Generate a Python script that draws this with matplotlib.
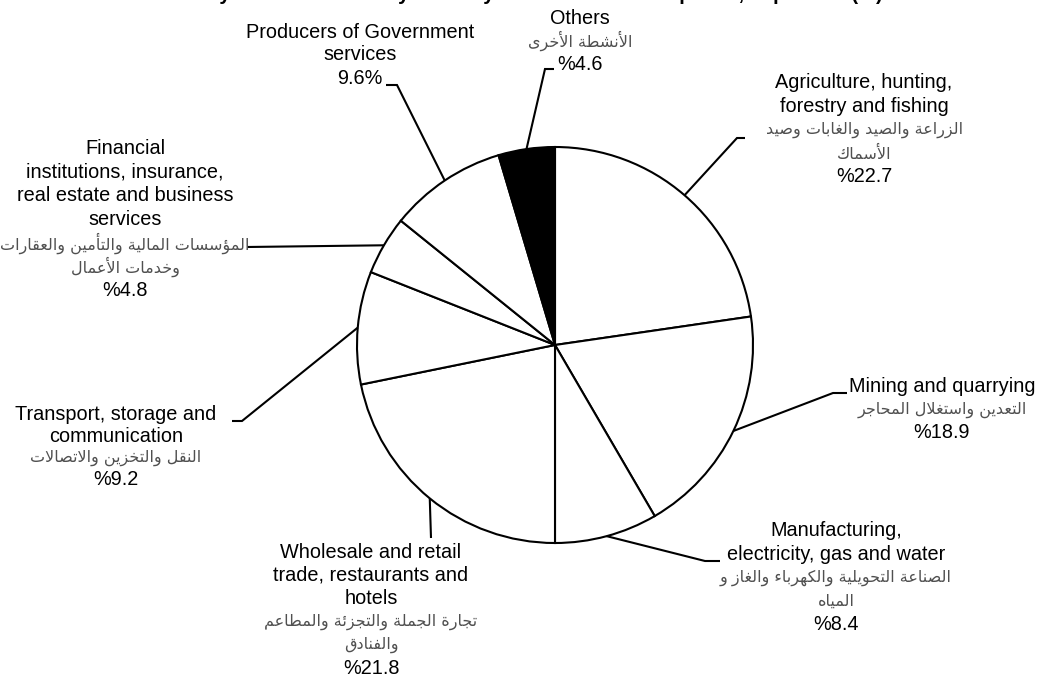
import numpy as np
import matplotlib
matplotlib.use("Agg")
import matplotlib.pyplot as plt

# ---------------- data ----------------
categories = [
    "Agriculture, hunting, forestry and fishing",
    "Mining and quarrying",
    "Manufacturing, electricity, gas and water",
    "Wholesale and retail trade, restaurants and hotels",
    "Transport, storage and communication",
    "Financial institutions, insurance, real estate and business services",
    "Producers of Government services",
    "Others",
]
english_lines = [
    ["Agriculture, hunting,", "forestry and fishing"],
    ["Mining and quarrying"],
    ["Manufacturing,", "electricity, gas and water"],
    ["Wholesale and retail", "trade, restaurants and", "hotels"],
    ["Transport, storage and", "communication"],
    ["Financial", "institutions, insurance,", "real estate and business", "services"],
    ["Producers of Government", "services"],
    ["Others"],
]
arabic_lines = [
    ["الزراعة والصيد والغابات وصيد", "الأسماك"],
    ["التعدين واستغلال المحاجر"],
    ["الصناعة التحويلية والكهرباء والغاز و", "المياه"],
    ["تجارة الجملة والتجزئة والمطاعم", "والفنادق"],
    ["النقل والتخزين والاتصالات"],
    ["المؤسسات المالية والتأمين والعقارات", "وخدمات الأعمال"],
    [],
    ["الأنشطة الأخرى"],
]
shares = [22.7, 18.9, 8.4, 21.8, 9.2, 4.8, 9.6, 4.6]
percent_first = [True, True, True, True, True, True, False, True]
slice_colors = ["white"] * 7 + ["black"]
title = "GDP by Economic Activity for the year 2007 at current prices, in percent (%)"

# ---------------- Arabic shaping (presentation forms, visual order) ----------------
_FORMS = {  # iso, fin, ini, med  (None = form does not exist)
    "ء": (0xFE80, None, None, None),
    "آ": (0xFE81, 0xFE82, None, None),
    "أ": (0xFE83, 0xFE84, None, None),
    "ؤ": (0xFE85, 0xFE86, None, None),
    "إ": (0xFE87, 0xFE88, None, None),
    "ئ": (0xFE89, 0xFE8A, 0xFE8B, 0xFE8C),
    "ا": (0xFE8D, 0xFE8E, None, None),
    "ب": (0xFE8F, 0xFE90, 0xFE91, 0xFE92),
    "ة": (0xFE93, 0xFE94, None, None),
    "ت": (0xFE95, 0xFE96, 0xFE97, 0xFE98),
    "ث": (0xFE99, 0xFE9A, 0xFE9B, 0xFE9C),
    "ج": (0xFE9D, 0xFE9E, 0xFE9F, 0xFEA0),
    "ح": (0xFEA1, 0xFEA2, 0xFEA3, 0xFEA4),
    "خ": (0xFEA5, 0xFEA6, 0xFEA7, 0xFEA8),
    "د": (0xFEA9, 0xFEAA, None, None),
    "ذ": (0xFEAB, 0xFEAC, None, None),
    "ر": (0xFEAD, 0xFEAE, None, None),
    "ز": (0xFEAF, 0xFEB0, None, None),
    "س": (0xFEB1, 0xFEB2, 0xFEB3, 0xFEB4),
    "ش": (0xFEB5, 0xFEB6, 0xFEB7, 0xFEB8),
    "ص": (0xFEB9, 0xFEBA, 0xFEBB, 0xFEBC),
    "ض": (0xFEBD, 0xFEBE, 0xFEBF, 0xFEC0),
    "ط": (0xFEC1, 0xFEC2, 0xFEC3, 0xFEC4),
    "ظ": (0xFEC5, 0xFEC6, 0xFEC7, 0xFEC8),
    "ع": (0xFEC9, 0xFECA, 0xFECB, 0xFECC),
    "غ": (0xFECD, 0xFECE, 0xFECF, 0xFED0),
    "ف": (0xFED1, 0xFED2, 0xFED3, 0xFED4),
    "ق": (0xFED5, 0xFED6, 0xFED7, 0xFED8),
    "ك": (0xFED9, 0xFEDA, 0xFEDB, 0xFEDC),
    "ل": (0xFEDD, 0xFEDE, 0xFEDF, 0xFEE0),
    "م": (0xFEE1, 0xFEE2, 0xFEE3, 0xFEE4),
    "ن": (0xFEE5, 0xFEE6, 0xFEE7, 0xFEE8),
    "ه": (0xFEE9, 0xFEEA, 0xFEEB, 0xFEEC),
    "و": (0xFEED, 0xFEEE, None, None),
    "ى": (0xFEEF, 0xFEF0, None, None),
    "ي": (0xFEF1, 0xFEF2, 0xFEF3, 0xFEF4),
}
_LAMALEF = {"آ": (0xFEF5, 0xFEF6), "أ": (0xFEF7, 0xFEF8),
            "إ": (0xFEF9, 0xFEFA), "ا": (0xFEFB, 0xFEFC)}


def _joins_left(ch):
    f = _FORMS.get(ch)
    return f is not None and f[2] is not None


def shape_arabic(s):
    out = []
    i, n = 0, len(s)
    while i < n:
        c = s[i]
        if c not in _FORMS:
            out.append(c)
            i += 1
            continue
        prev_joins = i > 0 and _joins_left(s[i - 1])
        nxt = s[i + 1] if i + 1 < n else ""
        if c == "ل" and nxt in _LAMALEF:
            iso, fin = _LAMALEF[nxt]
            out.append(chr(fin if prev_joins else iso))
            i += 2
            continue
        iso, fin, ini, med = _FORMS[c]
        next_joins = nxt in _FORMS and ini is not None
        if prev_joins and next_joins:
            code = med
        elif prev_joins:
            code = fin
        elif next_joins:
            code = ini
        else:
            code = iso
        out.append(chr(code))
        i += 1
    return "".join(reversed(out))


# ---------------- layout (pixels, origin top-left) ----------------
W, H = 1041, 682
PIE_CENTER = (555, 345)
PIE_RADIUS = 198
label_pos = [  # centre x, centre y of first line, line step
    (864, 83, 23.5),
    (942, 387, 23.0),
    (836, 531, 23.5),
    (371, 552, 23.2),
    (116, 415, 21.5),
    (125, 148, 23.7),
    (360, 32, 23.0),
    (580, 18, 23.0),
]
leader_pts = [  # elbow point, end point
    ((737, 138), (745, 138)),
    ((833, 393), (847, 393)),
    ((705, 561), (720, 561)),
    ((431, 538), (431, 538)),
    ((242, 421), (232, 421)),
    ((247, 247), (247, 247)),
    ((397, 85), (386, 85)),
    ((545, 69), (554, 69)),
]


def Y(y):
    return H - y


FONT = ["Liberation Sans", "DejaVu Sans"]
AR_FONT = ["DejaVu Sans"]
FS = 14.3
AR_FS = 11.5

fig = plt.figure(figsize=(W / 100, H / 100), dpi=100)
ax = fig.add_axes([0, 0, 1, 1])
wedges, _ = ax.pie(
    shares,
    colors=slice_colors,
    startangle=90,
    counterclock=False,
    center=(PIE_CENTER[0], Y(PIE_CENTER[1])),
    radius=PIE_RADIUS,
    wedgeprops=dict(edgecolor="black", linewidth=1.5),
)
ax.set_xlim(0, W)
ax.set_ylim(0, H)
ax.set_aspect("equal")
ax.axis("off")

for i, w in enumerate(wedges):
    mid = np.deg2rad((w.theta1 + w.theta2) / 2)
    sx = w.center[0] + w.r * np.cos(mid)
    sy = w.center[1] + w.r * np.sin(mid)
    (ex, ey), (tx, ty) = leader_pts[i]
    ax.plot([sx, ex, tx], [sy, Y(ey), Y(ty)], color="black", lw=1.5,
            solid_capstyle="butt", solid_joinstyle="miter", zorder=3)

    cx, cy, step = label_pos[i]
    pct = f"%{shares[i]}" if percent_first[i] else f"{shares[i]}%"
    k = 0
    for txt in english_lines[i]:
        ax.text(cx, Y(cy + k * step), txt, ha="center", va="center",
                fontsize=FS, family=FONT, color="black")
        k += 1
    for txt in arabic_lines[i]:
        ax.text(cx, Y(cy + k * step), shape_arabic(txt), ha="center",
                va="center", fontsize=AR_FS, family=AR_FONT, color="#505050")
        k += 1
    ax.text(cx, Y(cy + k * step), pct, ha="center", va="center",
            fontsize=FS, family=FONT, color="black")

ax.text(520, Y(0), title, ha="center", va="baseline",
        fontsize=14.5, fontweight="bold", family=FONT)

fig.savefig("out.png", dpi=100)
